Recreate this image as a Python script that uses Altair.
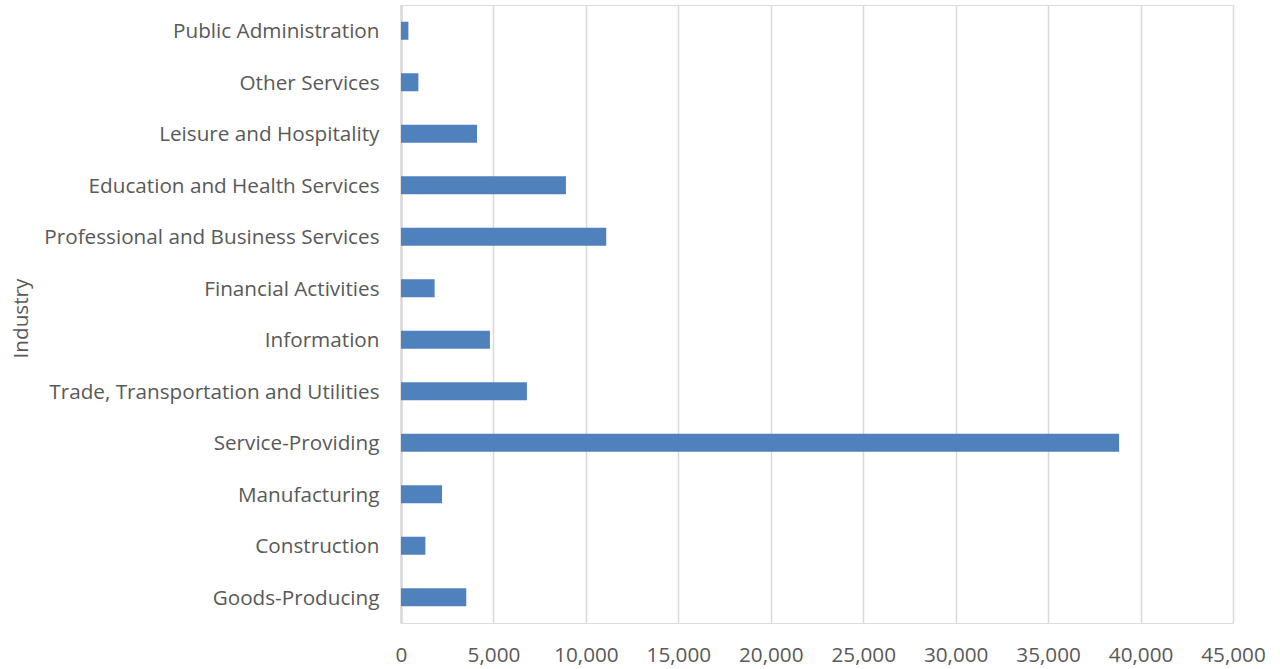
import altair as alt
import pandas as pd

industries = [
    "Public Administration",
    "Other Services",
    "Leisure and Hospitality",
    "Education and Health Services",
    "Professional and Business Services",
    "Financial Activities",
    "Information",
    "Trade, Transportation and Utilities",
    "Service-Providing",
    "Manufacturing",
    "Construction",
    "Goods-Producing",
]
values = [400, 940, 4110, 8920, 11100, 1820, 4810, 6810, 38840, 2220, 1320, 3530]

df = pd.DataFrame({"Industry": industries, "Value": values})

FONT = "Open Sans"
GRAY = "#595959"
FS = 20.7

chart = alt.Chart(df).mark_bar(color="#4F81BD").encode(
    x=alt.X(
        "Value:Q",
        scale=alt.Scale(domain=[0, 45000], nice=False),
        axis=alt.Axis(
            values=list(range(0, 45001, 5000)),
            format=",.0f",
            title=None,
            grid=True,
            gridColor="#d9d9d9",
            gridWidth=1.5,
            domain=False,
            ticks=False,
            labelPadding=22,
            labelFontSize=FS,
            labelColor=GRAY,
            labelFont=FONT,
            labelOverlap=False,
            labelFlush=False,
        ),
    ),
    y=alt.Y(
        "Industry:N",
        sort=None,
        scale=alt.Scale(paddingInner=0.65, paddingOuter=0.325),
        axis=alt.Axis(
            title="Industry",
            titleFont=FONT,
            titleFontSize=FS,
            titleFontWeight="normal",
            titleColor=GRAY,
            titleAngle=-90,
            titleAlign="center",
            titleBaseline="middle",
            titleX=-380,
            titleY=313,
            domain=True,
            domainColor="#d9d9d9",
            domainWidth=2.5,
            ticks=False,
            grid=False,
            labelPadding=22,
            labelOffset=1.5,
            labelFontSize=FS,
            labelColor=GRAY,
            labelFont=FONT,
            labelLimit=500,
        ),
    ),
).properties(
    width=832,
    height=618,
    autosize=alt.AutoSizeParams(type="none"),
    padding={"left": 401, "top": 5, "right": 47, "bottom": 46},
).configure_view(stroke=None).configure(background="white")

chart.save("out.html", embed_options={"renderer": "svg", "actions": False})
